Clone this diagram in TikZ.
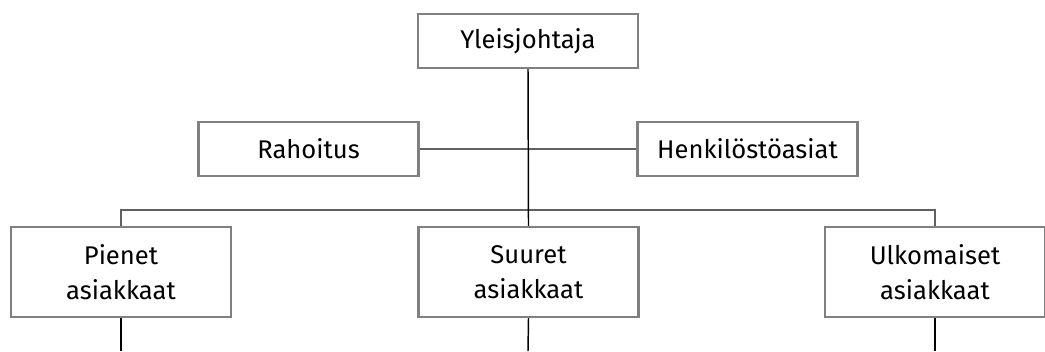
\documentclass[tikz,border=0pt]{standalone}
\usepackage{fontspec}
\setmainfont{Fira Sans}
\begin{document}
\begin{tikzpicture}[x=0.75pt,y=-0.75pt,
  unit/.style={draw=black!50,line width=1.6pt,fill=white,inner sep=0pt,
    minimum width=165pt,minimum height=40.5pt,align=center,
    font=\fontsize{19.2}{26}\selectfont},
  tall/.style={unit,minimum height=67.5pt},
  trunk/.style={draw=black,line width=1.1pt},
  branch/.style={draw=black!62,line width=2pt}]
\useasboundingbox (0,0) rectangle (1045,351);
\coordinate (bot) at (528,351);
\coordinate (bus) at (528,210);
\node[unit] (top) at (528,41) {Yleisjohtaja};
\node[unit] (rah) at (308.5,149) {Rahoitus};
\node[unit] (hen) at (747.5,149) {Henkilöstöasiat};
\node[tall] (pie) at (121,272) {Pienet\\asiakkaat};
\node[tall] (suu) at (528.5,272) {Suuret\\asiakkaat};
\node[tall] (ulk) at (935,272) {Ulkomaiset\\asiakkaat};
% staff line and bus
\draw[branch] (rah.east) -- (hen.west);
\draw[branch] (pie.north) |- (bus) -| (ulk.north);
% main trunk and the lines below the units
\draw[trunk] (top.south) -- (suu.north);
\draw[trunk] (suu.south) -- (bot);
\draw[trunk] (pie.south) -- (pie.south |- bot);
\draw[trunk] (ulk.south) -- (ulk.south |- bot);
\end{tikzpicture}
\end{document}
